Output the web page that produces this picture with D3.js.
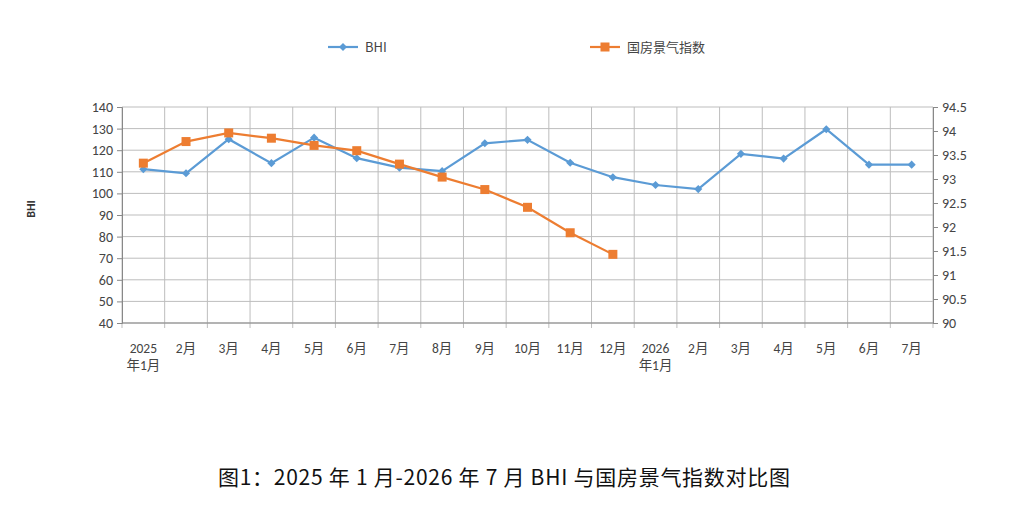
<!DOCTYPE html>
<html>
<head>
<meta charset="utf-8">
<script src="https://cdn.jsdelivr.net/npm/d3@7"></script>
<style>
  body { margin: 0; background: #fff; }
  svg { display: block; }
  .tick text { font-family: Calibri, "Liberation Sans", "Noto Sans CJK SC", sans-serif; fill: #444; }
</style>
</head>
<body>
<svg id="chart" width="1023" height="513"></svg>
<script>
// categories (second line only where the year changes)
const months = ['2025\n年1月', '2月', '3月', '4月', '5月', '6月', '7月', '8月', '9月', '10月', '11月', '12月',
  '2026\n年1月', '2月', '3月', '4月', '5月', '6月', '7月']
const bhi = [111.2, 109.3, 125.1, 114, 125.8, 116.3, 111.9, 110.3, 123.2, 124.8, 114.2, 107.5,
  103.9, 102, 118.3, 116.1, 129.7, 113.3, 113.3]
const housing = [93.33, 93.78, 93.96, 93.85, 93.7, 93.59, 93.31, 93.04, 92.78, 92.41, 91.88, 91.43]
const leftTicks = [40, 50, 60, 70, 80, 90, 100, 110, 120, 130, 140]
const rightTicks = [90, 90.5, 91, 91.5, 92, 92.5, 93, 93.5, 94, 94.5]

const blue = '#5b9bd5'
const orange = '#ed7d31'
const svg = d3.select('#chart')
const margin = { top: 107, left: 122, right: 90, bottom: 190 }
const width = 1023 - margin.left - margin.right
const height = 513 - margin.top - margin.bottom

const x = d3.scaleBand().domain(d3.range(months.length)).range([0, width])
const y = d3.scaleLinear().domain([40, 140]).range([height, 0])
const y2 = d3.scaleLinear().domain([90, 94.5]).range([height, 0])

const chart = svg.append('g').attr('transform', `translate(${margin.left},${margin.top})`)

// grid
chart.append('g')
  .selectAll('line')
  .data(leftTicks)
  .join('line')
  .attr('x1', 0).attr('x2', width)
  .attr('y1', d => y(d)).attr('y2', d => y(d))
  .attr('stroke', '#bdbdbd')
chart.append('g')
  .selectAll('line')
  .data(d3.range(months.length + 1))
  .join('line')
  .attr('x1', i => i * x.step()).attr('x2', i => i * x.step())
  .attr('y1', 0).attr('y2', height + 5)
  .attr('stroke', '#bdbdbd')

// axes
const yAxis = chart.append('g')
  .call(d3.axisLeft(y).tickValues(leftTicks).tickSize(5).tickPadding(4))
yAxis.select('.domain').attr('stroke', '#888')
yAxis.selectAll('.tick line').attr('stroke', '#888')
yAxis.selectAll('text').attr('font-size', 14)

const y2Axis = chart.append('g')
  .attr('transform', `translate(${width},0)`)
  .call(d3.axisRight(y2).tickValues(rightTicks).tickFormat(d => d).tickSize(5).tickPadding(4))
y2Axis.select('.domain').attr('stroke', '#888')
y2Axis.selectAll('.tick line').attr('stroke', '#888')
y2Axis.selectAll('text').attr('font-size', 14)

chart.append('line')
  .attr('x1', 0).attr('x2', width)
  .attr('y1', height).attr('y2', height)
  .attr('stroke', '#888')

// x labels
const xl = chart.append('g')
  .selectAll('text')
  .data(months)
  .join('text')
  .attr('x', (d, i) => x(i) + x.bandwidth() / 2)
  .attr('y', height + 30)
  .attr('text-anchor', 'middle')
  .attr('font-family', 'Calibri, "Liberation Sans", "Noto Sans CJK SC", sans-serif')
  .attr('font-size', 13.5)
  .attr('fill', '#444')
xl.selectAll('tspan')
  .data(d => d.split('\n'))
  .join('tspan')
  .attr('x', function () { return d3.select(this.parentNode).attr('x') })
  .attr('dy', (d, i) => i ? 17 : 0)
  .text(d => d)

// lines
const cx = i => x(i) + x.bandwidth() / 2
const bhiLine = d3.line().x((d, i) => cx(i)).y(d => y(d))
const housingLine = d3.line().x((d, i) => cx(i)).y(d => y2(d))

chart.append('path')
  .attr('d', bhiLine(bhi))
  .attr('fill', 'none')
  .attr('stroke', blue)
  .attr('stroke-width', 2.2)
chart.append('g')
  .selectAll('path')
  .data(bhi)
  .join('path')
  .attr('d', d3.symbol(d3.symbolDiamond2, 42))
  .attr('transform', (d, i) => `translate(${cx(i)},${y(d)})`)
  .attr('fill', blue)

chart.append('path')
  .attr('d', housingLine(housing))
  .attr('fill', 'none')
  .attr('stroke', orange)
  .attr('stroke-width', 2.2)
chart.append('g')
  .selectAll('rect')
  .data(housing)
  .join('rect')
  .attr('x', (d, i) => cx(i) - 4.5)
  .attr('y', d => y2(d) - 4.5)
  .attr('width', 9).attr('height', 9)
  .attr('fill', orange)

// y label
svg.append('text')
  .attr('transform', 'translate(35,209) rotate(-90)')
  .attr('text-anchor', 'middle')
  .attr('font-family', 'Calibri, "Liberation Sans", sans-serif')
  .attr('font-size', 12)
  .attr('font-weight', 'bold')
  .attr('fill', '#333')
  .text('BHI')

// legend
const legend = [
  { name: 'BHI', color: blue, x: 328, mark: 'diamond' },
  { name: '国房景气指数', color: orange, x: 590, mark: 'square' }
]
legend.forEach(l => {
  const g = svg.append('g').attr('transform', `translate(${l.x},47)`)
  g.append('line').attr('x1', 0).attr('x2', 30).attr('stroke', l.color).attr('stroke-width', 2.2)
  if (l.mark === 'diamond') {
    g.append('path').attr('d', d3.symbol(d3.symbolDiamond2, 42)).attr('transform', 'translate(15,0)').attr('fill', l.color)
  } else {
    g.append('rect').attr('x', 10.5).attr('y', -4.5).attr('width', 9).attr('height', 9).attr('fill', l.color)
  }
  g.append('text')
    .attr('x', 37).attr('y', 4.5)
    .attr('font-family', '"Noto Sans CJK SC", sans-serif')
    .attr('font-size', 13)
    .attr('fill', '#444')
    .text(l.name)
})

// title
svg.append('text')
  .attr('x', 218).attr('y', 485)
  .attr('textLength', 572)
  .attr('lengthAdjust', 'spacing')
  .attr('font-family', '"Noto Sans CJK SC", sans-serif')
  .attr('font-size', 21)
  .attr('fill', '#111')
  .text('图1：2025 年 1 月-2026 年 7 月 BHI 与国房景气指数对比图')
</script>
</body>
</html>
